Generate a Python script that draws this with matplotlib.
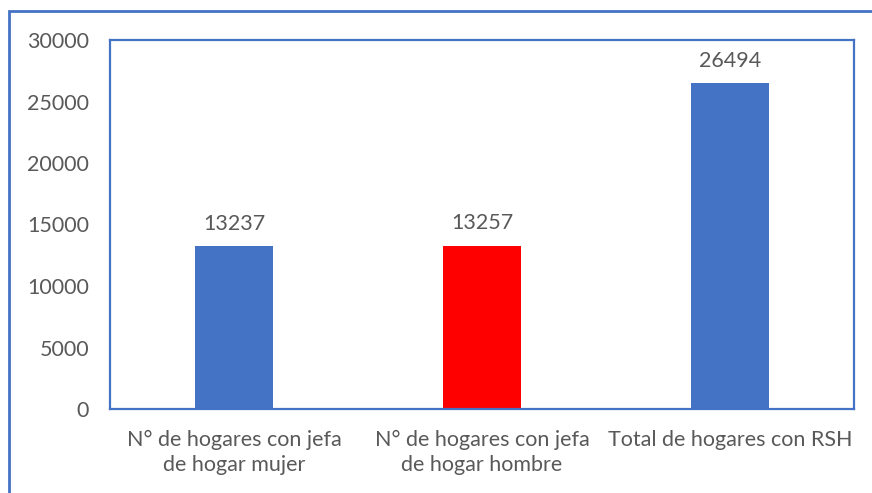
import matplotlib.pyplot as plt
from matplotlib.patches import Rectangle

categories = ["N° de hogares con jefa\nde hogar mujer",
              "N° de hogares con jefa\nde hogar hombre",
              "Total de hogares con RSH"]
values = [13237, 13257, 26494]
colors = ["#4472C4", "#FF0000", "#4472C4"]
yticks = [0, 5000, 10000, 15000, 20000, 25000, 30000]

plt.rcParams["font.family"] = ["Lato", "DejaVu Sans"]
text_color = "#595959"
blue = "#4472C4"

fig = plt.figure(figsize=(8.72, 4.93), dpi=100)
ax = fig.add_axes([110 / 872, 1 - 409 / 493, 744 / 872, 369 / 493])

x = range(len(values))
bars = ax.bar(x, values, width=0.315, color=colors)
for b, v in zip(bars, values):
    ax.annotate(str(v), (b.get_x() + b.get_width() / 2, v), xytext=(0, 9),
                textcoords="offset points", ha="center", va="bottom",
                fontsize=15.5, color=text_color)

ax.set_xlim(-0.5, 2.5)
ax.set_ylim(0, 30000)
ax.set_yticks(yticks)
ax.set_yticklabels([str(t) for t in yticks])
ax.set_xticks(list(x))
ax.set_xticklabels(categories, linespacing=1.3)
ax.tick_params(length=0, labelsize=15.5, labelcolor=text_color)
ax.tick_params(axis="y", pad=15)
ax.tick_params(axis="x", pad=15)
for s in ax.spines.values():
    s.set_color(blue)
    s.set_linewidth(1.6)

# outer chart frame (cropped on the right and bottom)
fig.patches.append(Rectangle((9 / 872, -0.1), 1.0, 1.1 - 11 / 493,
                             transform=fig.transFigure, fill=False,
                             edgecolor=blue, linewidth=2))

fig.savefig("out.png", dpi=100)
